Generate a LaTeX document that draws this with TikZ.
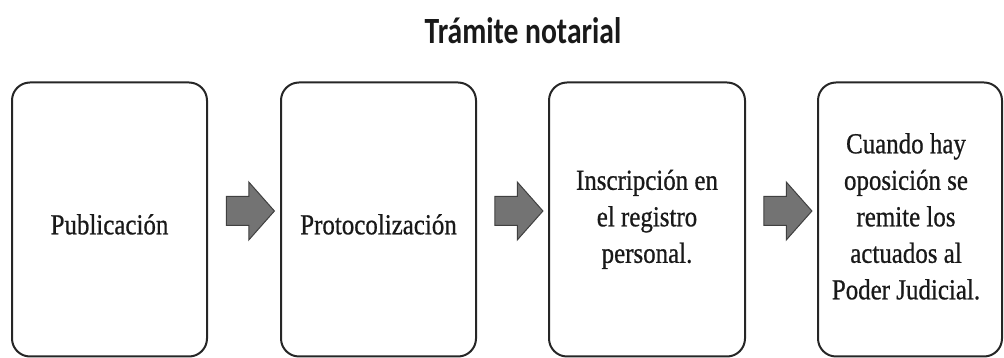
\documentclass[tikz,border=0pt]{standalone}
\usepackage{fontspec}
\setmainfont{Liberation Serif}
\newfontfamily\boxfont[FakeBold=0.8]{Liberation Serif}
\newfontfamily\titlefont{Carlito}
\usetikzlibrary{shapes.arrows}
\begin{document}
\begin{tikzpicture}[x=1pt,y=1pt,
  stepbox/.style={draw=black!85, line width=2pt, rounded corners=18pt, minimum height=274pt, inner sep=0pt},
  steptext/.style={inner sep=0pt, font=\boxfont\fontsize{29}{36.5}\selectfont, text=black!90},
  blockarrow/.style={single arrow, draw=black!75, fill=black!55, line width=1pt,
    minimum width=57pt, minimum height=48pt, inner sep=14pt,
    single arrow head extend=14.5pt, single arrow tip angle=97}]
\useasboundingbox (0,0) rectangle (1004,358);
\node[inner sep=0pt, anchor=base, text=black!90] (title) at (523,314)
  {\scalebox{0.80}[1]{\titlefont\bfseries\fontsize{37}{40}\selectfont Trámite notarial}};
\node[stepbox, minimum width=195pt] (b1) at (109.5,138.5) {};
\node[stepbox, minimum width=195pt] (b2) at (378.5,138.5) {};
\node[stepbox, minimum width=196pt] (b3) at (647,138.5) {};
\node[stepbox, minimum width=184pt] (b4) at (910,138.5) {};
\node[steptext] (t1) at (109.5,131) {\scalebox{0.86}[1]{\begin{tabular}{@{}c@{}}Publicación\end{tabular}}};
\node[steptext] (t2) at (378.5,131) {\scalebox{0.86}[1]{\begin{tabular}{@{}c@{}}Protocolización\end{tabular}}};
\node[steptext] (t3) at (647,139) {\scalebox{0.86}[1]{\begin{tabular}{@{}c@{}}Inscripción en\\el registro\\personal.\end{tabular}}};
\node[steptext] (t4) at (906,139) {\scalebox{0.86}[1]{\begin{tabular}{@{}c@{}}Cuando hay\\oposición se\\remite los\\actuados al\\Poder Judicial.\end{tabular}}};
\node[blockarrow] (a1) at (244,147) {};
\node[blockarrow] (a2) at (512.5,147) {};
\node[blockarrow] (a3) at (781.5,147) {};
\end{tikzpicture}
\end{document}
